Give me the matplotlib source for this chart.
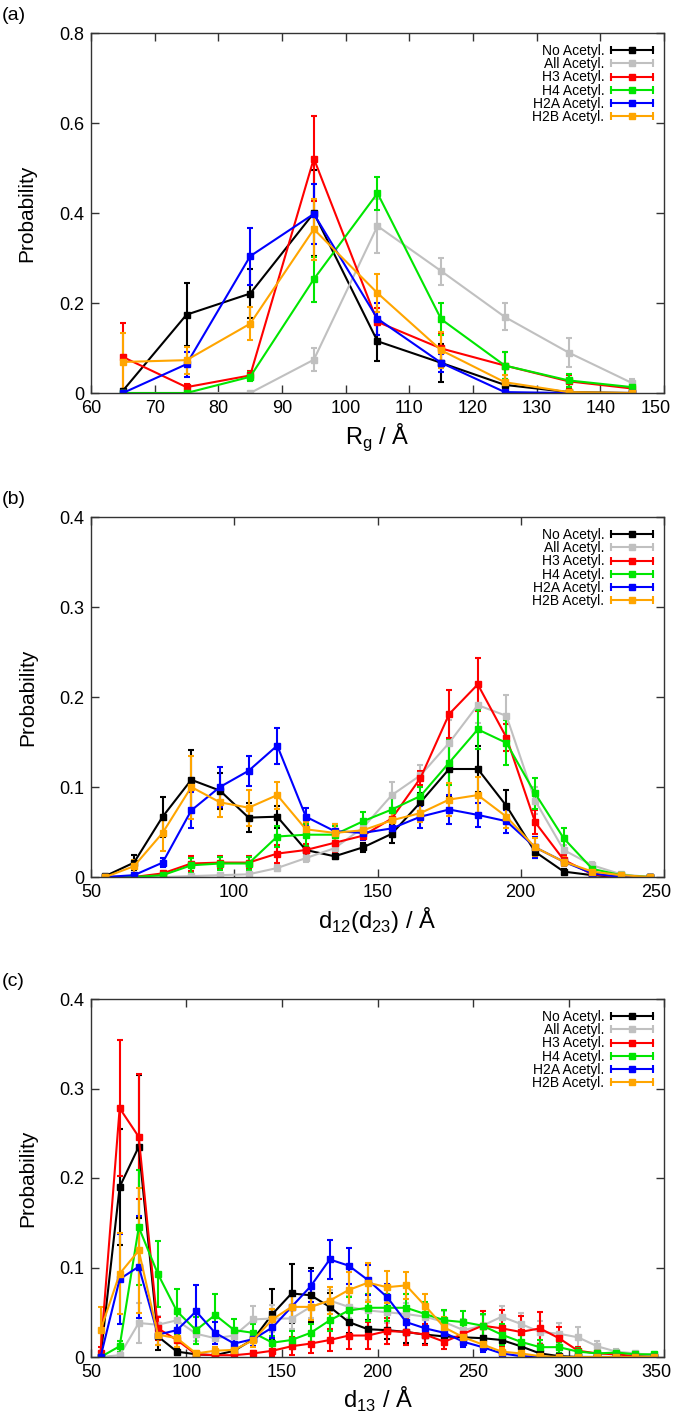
import numpy as np
import matplotlib
matplotlib.use('Agg')
import matplotlib.pyplot as plt
from matplotlib.lines import Line2D
from matplotlib.legend_handler import HandlerBase
from matplotlib.transforms import ScaledTranslation

plt.rcParams['font.family'] = ['Liberation Sans', 'DejaVu Sans']
plt.rcParams['mathtext.fontset'] = 'custom'
plt.rcParams['mathtext.rm'] = 'Liberation Sans'

labels = ['No Acetyl.', 'All Acetyl.', 'H3 Acetyl.', 'H4 Acetyl.', 'H2A Acetyl.', 'H2B Acetyl.']
colors = ['black', '#c0c0c0', '#ff0000', '#00e600', '#0000ff', '#ffa500']

# (a) radius of gyration
xa = [65, 75, 85, 95, 105, 115, 125, 135, 145]
a_no = [0.005, 0.174, 0.221, 0.400, 0.115, 0.067, 0.018, 0.002, 0.0]
a_no_err = [0.005, 0.07, 0.055, 0.095, 0.043, 0.043, 0.01, 0.002, 0.0]
a_all = [0.0, 0.0, 0.0, 0.074, 0.371, 0.271, 0.169, 0.090, 0.022]
a_all_err = [0.0, 0.0, 0.002, 0.025, 0.06, 0.03, 0.03, 0.033, 0.01]
a_h3 = [0.080, 0.013, 0.039, 0.521, 0.158, 0.099, 0.061, 0.026, 0.010]
a_h3_err = [0.076, 0.008, 0.01, 0.095, 0.03, 0.035, 0.03, 0.015, 0.005]
a_h4 = [0.0, 0.0, 0.036, 0.253, 0.444, 0.164, 0.061, 0.028, 0.013]
a_h4_err = [0.0, 0.0, 0.01, 0.05, 0.037, 0.035, 0.03, 0.015, 0.005]
a_h2a = [0.0, 0.064, 0.304, 0.398, 0.165, 0.067, 0.002, 0.0, 0.0]
a_h2a_err = [0.0, 0.028, 0.063, 0.067, 0.035, 0.02, 0.002, 0.0, 0.0]
a_h2b = [0.069, 0.073, 0.154, 0.364, 0.222, 0.095, 0.024, 0.002, 0.0]
a_h2b_err = [0.064, 0.03, 0.037, 0.068, 0.042, 0.04, 0.015, 0.002, 0.0]

# (b) d12(d23)
xb = [55, 65, 75, 85, 95, 105, 115, 125, 135, 145, 155, 165, 175, 185, 195, 205, 215, 225, 235, 245]
b_no = [0.001, 0.016, 0.067, 0.108, 0.096, 0.066, 0.067, 0.030, 0.023, 0.033, 0.048, 0.083, 0.120, 0.120, 0.079, 0.028, 0.006, 0.002, 0.0, 0.0]
b_no_err = [0.001, 0.008, 0.022, 0.033, 0.02, 0.016, 0.012, 0.006, 0.003, 0.005, 0.01, 0.01, 0.03, 0.026, 0.018, 0.007, 0.003, 0.001, 0.0, 0.0]
b_all = [0.0, 0.0, 0.0, 0.001, 0.002, 0.003, 0.010, 0.021, 0.032, 0.055, 0.091, 0.113, 0.149, 0.191, 0.179, 0.085, 0.030, 0.013, 0.003, 0.0]
b_all_err = [0.0, 0.0, 0.0, 0.001, 0.001, 0.002, 0.003, 0.004, 0.005, 0.008, 0.015, 0.012, 0.025, 0.02, 0.023, 0.015, 0.006, 0.004, 0.002, 0.0]
b_h3 = [0.0, 0.0, 0.004, 0.015, 0.016, 0.016, 0.026, 0.030, 0.038, 0.046, 0.065, 0.110, 0.181, 0.214, 0.155, 0.061, 0.019, 0.003, 0.0, 0.0]
b_h3_err = [0.0, 0.0, 0.002, 0.008, 0.007, 0.007, 0.01, 0.007, 0.01, 0.005, 0.01, 0.008, 0.027, 0.029, 0.015, 0.013, 0.005, 0.002, 0.0, 0.0]
b_h4 = [0.0, 0.0, 0.002, 0.013, 0.015, 0.015, 0.045, 0.047, 0.047, 0.062, 0.075, 0.090, 0.127, 0.164, 0.149, 0.093, 0.043, 0.009, 0.002, 0.0]
b_h4_err = [0.0, 0.0, 0.002, 0.008, 0.007, 0.007, 0.012, 0.012, 0.01, 0.01, 0.013, 0.01, 0.025, 0.022, 0.025, 0.017, 0.011, 0.004, 0.001, 0.0]
b_h2a = [0.0, 0.002, 0.016, 0.074, 0.100, 0.118, 0.146, 0.067, 0.051, 0.049, 0.054, 0.067, 0.075, 0.069, 0.062, 0.033, 0.017, 0.004, 0.0, 0.0]
b_h2a_err = [0.0, 0.002, 0.005, 0.02, 0.022, 0.017, 0.02, 0.01, 0.008, 0.008, 0.01, 0.012, 0.016, 0.013, 0.013, 0.012, 0.005, 0.002, 0.0, 0.0]
b_h2b = [0.0, 0.012, 0.049, 0.100, 0.083, 0.077, 0.091, 0.053, 0.049, 0.052, 0.063, 0.071, 0.086, 0.091, 0.067, 0.033, 0.017, 0.006, 0.002, 0.0]
b_h2b_err = [0.001, 0.007, 0.02, 0.035, 0.016, 0.02, 0.015, 0.008, 0.01, 0.01, 0.01, 0.01, 0.018, 0.02, 0.013, 0.01, 0.005, 0.003, 0.001, 0.0]

# (c) d13
xc = [55, 65, 75, 85, 95, 105, 115, 125, 135, 145, 155, 165, 175, 185, 195,
      205, 215, 225, 235, 245, 255, 265, 275, 285, 295, 305, 315, 325, 335, 345]
c_no = [0.0, 0.190, 0.235, 0.023, 0.006, 0.003, 0.002, 0.007, 0.020, 0.048, 0.071, 0.069, 0.056, 0.039, 0.031,
        0.030, 0.028, 0.025, 0.023, 0.022, 0.021, 0.019, 0.012, 0.004, 0.001, 0.0, 0.0, 0.0, 0.0, 0.0]
c_no_err = [0.003, 0.065, 0.08, 0.015, 0.004, 0.002, 0.002, 0.004, 0.008, 0.028, 0.033, 0.03, 0.015, 0.012, 0.01,
            0.01, 0.012, 0.01, 0.008, 0.01, 0.01, 0.008, 0.005, 0.003, 0.001, 0.0, 0.0, 0.0, 0.0, 0.0]
c_all = [0.0, 0.002, 0.038, 0.036, 0.041, 0.026, 0.021, 0.024, 0.042, 0.043, 0.043, 0.056, 0.063, 0.056, 0.052,
         0.050, 0.048, 0.045, 0.039, 0.030, 0.035, 0.045, 0.037, 0.028, 0.026, 0.022, 0.012, 0.006, 0.004, 0.002]
c_all_err = [0.001, 0.002, 0.022, 0.01, 0.01, 0.008, 0.006, 0.008, 0.015, 0.015, 0.012, 0.012, 0.012, 0.012, 0.012,
             0.012, 0.012, 0.012, 0.012, 0.012, 0.012, 0.012, 0.012, 0.012, 0.012, 0.012, 0.006, 0.003, 0.002, 0.001]
c_h3 = [0.005, 0.278, 0.246, 0.032, 0.019, 0.003, 0.002, 0.002, 0.004, 0.007, 0.012, 0.015, 0.019, 0.024, 0.024,
        0.029, 0.028, 0.025, 0.017, 0.026, 0.035, 0.032, 0.028, 0.032, 0.021, 0.007, 0.004, 0.003, 0.001, 0.0]
c_h3_err = [0.006, 0.076, 0.07, 0.013, 0.008, 0.002, 0.002, 0.002, 0.003, 0.006, 0.01, 0.01, 0.012, 0.015, 0.015,
            0.015, 0.015, 0.012, 0.008, 0.012, 0.016, 0.02, 0.018, 0.018, 0.012, 0.004, 0.003, 0.002, 0.001, 0.0]
c_h4 = [0.0, 0.012, 0.145, 0.093, 0.051, 0.030, 0.047, 0.030, 0.027, 0.016, 0.019, 0.027, 0.041, 0.052, 0.055,
        0.055, 0.055, 0.048, 0.041, 0.039, 0.035, 0.025, 0.017, 0.011, 0.011, 0.006, 0.004, 0.005, 0.003, 0.003]
c_h4_err = [0.002, 0.006, 0.064, 0.037, 0.025, 0.015, 0.023, 0.013, 0.01, 0.008, 0.01, 0.01, 0.012, 0.015, 0.015,
            0.015, 0.015, 0.013, 0.012, 0.012, 0.013, 0.012, 0.01, 0.008, 0.006, 0.004, 0.003, 0.003, 0.002, 0.002]
c_h2a = [0.0, 0.087, 0.101, 0.025, 0.030, 0.051, 0.027, 0.015, 0.020, 0.033, 0.056, 0.079, 0.109, 0.102, 0.086,
         0.067, 0.039, 0.032, 0.027, 0.017, 0.011, 0.004, 0.001, 0.0, 0.0, 0.0, 0.0, 0.0, 0.0, 0.0]
c_h2a_err = [0.002, 0.05, 0.057, 0.012, 0.01, 0.029, 0.012, 0.006, 0.008, 0.012, 0.015, 0.017, 0.022, 0.02, 0.017,
             0.015, 0.01, 0.01, 0.008, 0.006, 0.005, 0.003, 0.001, 0.0, 0.0, 0.0, 0.0, 0.0, 0.0, 0.0]
c_h2b = [0.030, 0.093, 0.119, 0.025, 0.021, 0.004, 0.007, 0.008, 0.019, 0.042, 0.056, 0.056, 0.063, 0.075, 0.083,
         0.078, 0.080, 0.057, 0.033, 0.022, 0.014, 0.006, 0.004, 0.001, 0.0, 0.0, 0.0, 0.0, 0.0, 0.0]
c_h2b_err = [0.026, 0.045, 0.07, 0.012, 0.01, 0.003, 0.004, 0.005, 0.008, 0.012, 0.015, 0.015, 0.015, 0.02, 0.022,
             0.018, 0.015, 0.013, 0.012, 0.008, 0.006, 0.004, 0.002, 0.001, 0.0, 0.0, 0.0, 0.0, 0.0, 0.0]


class GnuHandler(HandlerBase):
    # gnuplot-like key sample: line with end ticks and a square in the middle
    def create_artists(self, legend, orig_handle, xdescent, ydescent, width, height, fontsize, trans):
        c = orig_handle.get_color()
        x0, x1 = -xdescent, -xdescent + width
        y = (height - ydescent) / 2
        line = Line2D([x0, x1], [y, y], color=c, lw=1.5)
        caps = Line2D([x0, x1], [y, y], ls='none', marker='|', ms=6, mew=1.5, color=c)
        mk = Line2D([(x0 + x1) / 2], [y], ls='none', marker='s', ms=4, color=c)
        for a in (line, caps, mk):
            a.set_transform(trans)
        return [line, caps, mk]


fig = plt.figure(figsize=(6.75, 14.27), dpi=100)
W, H = 675, 1427
boxes = [(91, 33, 664, 393), (91, 517, 664, 877), (91, 999, 664, 1357)]
panels = [
    (xa, [a_no, a_all, a_h3, a_h4, a_h2a, a_h2b], [a_no_err, a_all_err, a_h3_err, a_h4_err, a_h2a_err, a_h2b_err],
     (60, 150), np.arange(60, 151, 10), 0.8, 0.2, r'R$_\mathrm{g}$ / Å', '(a)'),
    (xb, [b_no, b_all, b_h3, b_h4, b_h2a, b_h2b], [b_no_err, b_all_err, b_h3_err, b_h4_err, b_h2a_err, b_h2b_err],
     (50, 250), np.arange(50, 251, 50), 0.4, 0.1, r'd$_\mathrm{12}$(d$_\mathrm{23}$) / Å', '(b)'),
    (xc, [c_no, c_all, c_h3, c_h4, c_h2a, c_h2b], [c_no_err, c_all_err, c_h3_err, c_h4_err, c_h2a_err, c_h2b_err],
     (50, 350), np.arange(50, 351, 50), 0.4, 0.1, r'd$_\mathrm{13}$ / Å', '(c)'),
]

for (l, t, r, b), (x, ys, es, xlim, xt, ymax, ystep, xlabel, tag) in zip(boxes, panels):
    ax = fig.add_axes([l / W, 1 - b / H, (r - l) / W, (b - t) / H])
    handles = []
    for y, e, c, lab in zip(ys, es, colors, labels):
        ax.errorbar(x, y, yerr=e, color=c, lw=1.5, marker='s', ms=3.8,
                    capsize=2, elinewidth=1.5, capthick=1.5, label=lab)
        handles.append(Line2D([], [], color=c))
    ax.set_xlim(*xlim)
    ax.set_ylim(0, ymax)
    ax.set_xticks(xt)
    yt = np.round(np.arange(0, ymax + 1e-9, ystep), 2)
    ax.set_yticks(yt)
    ax.set_yticklabels(['%g' % v for v in yt])
    ax.tick_params(direction='in', top=True, right=True, length=6, width=1,
                   labelsize=13, color='#333333', pad=5)
    for s in ax.spines.values():
        s.set_color('#333333')
        s.set_linewidth(1)
    # keep the last x tick label inside the figure, as in the original
    last = ax.get_xticklabels()[-1]
    last.set_transform(last.get_transform() + ScaledTranslation(-0.08, 0, fig.dpi_scale_trans))
    ax.set_xlabel(xlabel, fontsize=17, labelpad=3)
    ax.set_ylabel('Probability', fontsize=15, labelpad=16)
    ax.legend(handles, labels, handler_map={Line2D: GnuHandler()}, loc='upper right',
              markerfirst=False, frameon=False, fontsize=10, labelspacing=-0.06,
              handlelength=3, handletextpad=0.5, borderaxespad=0.6, borderpad=0.2)
    fig.text(2 / W, 1 - (t - 18) / H, tag, fontsize=14, va='center', ha='left')

fig.savefig('out.png', dpi=100)
